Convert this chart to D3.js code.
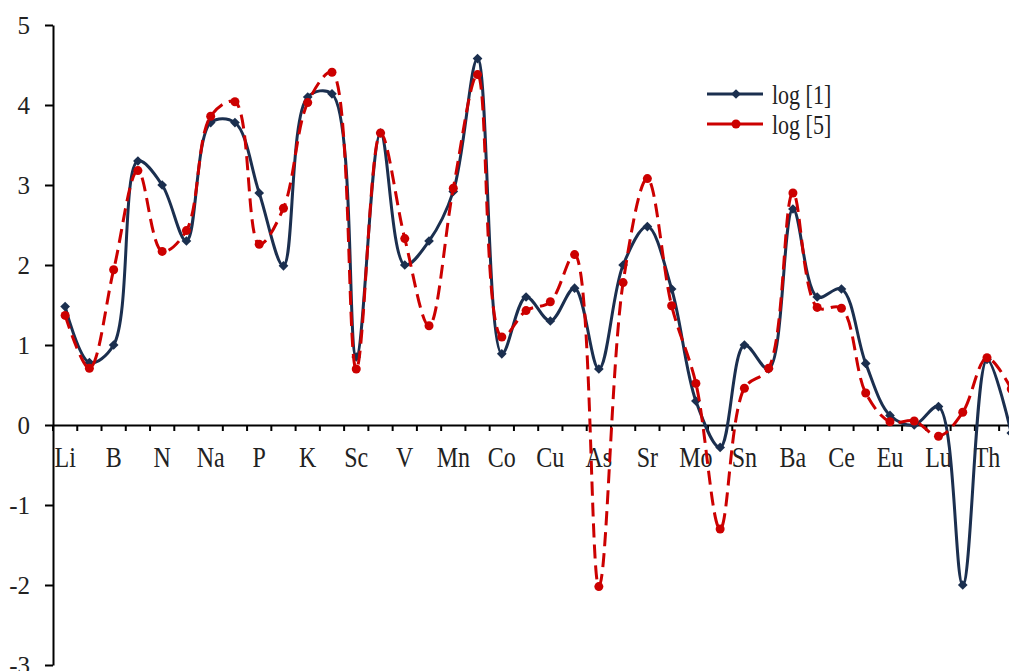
<!DOCTYPE html>
<html>
<head>
<meta charset="utf-8">
<script src="https://cdn.jsdelivr.net/npm/d3@7"></script>
<style>
  html, body { margin: 0; padding: 0; background: #fff; }
  svg { display: block; }
</style>
</head>
<body>
<svg id="chart" width="1009" height="671"></svg>
<script>
const categories = ["Li","Be","B","C","N","F","Na","Mg","P","S","K","Ca","Sc","Ti","V","Cr","Mn","Fe","Co","Ni","Cu","Zn","As","Rb","Sr","Zr","Mo","Cd","Sn","Sb","Ba","La","Ce","Nd","Eu","Yb","Lu","Pb","Th","U"];
const log1 = [1.48,0.78,1.0,3.3,3.0,2.3,3.78,3.78,2.9,1.99,4.1,4.14,0.85,3.65,2.0,2.3,2.92,4.58,0.89,1.6,1.3,1.71,0.7,2.0,2.48,1.7,0.3,-0.28,1.0,0.7,2.7,1.6,1.7,0.77,0.12,0.0,0.23,-2.0,0.82,-0.1];
const log5 = [1.37,0.71,1.94,3.18,2.17,2.43,3.86,4.04,2.26,2.71,4.03,4.41,0.7,3.65,2.33,1.24,2.96,4.38,1.1,1.43,1.54,2.13,-2.02,1.78,3.08,1.49,0.52,-1.3,0.46,0.71,2.9,1.47,1.46,0.4,0.04,0.05,-0.14,0.16,0.84,0.45];
const yTicks = [-3,-2,-1,0,1,2,3,4,5];
const seriesNames = ["log [1]", "log [5]"];

const svg = d3.select("#chart");
const mLeft = 53, mTop = 25, mBottom = 665;
const step = 24.26;
const x = d3.scaleBand().domain(categories).range([mLeft, mLeft + step * categories.length]).padding(0);
const bw = x.bandwidth();
const cx = c => x(c) + bw / 2;
const y = d3.scaleLinear().domain([-3, 5]).range([mBottom, mTop]);

const font = "'Liberation Serif', 'Times New Roman', serif";
const dark = "#1b2f4f", red = "#cc0000";

// Y axis
const yAxis = svg.append("g").attr("transform", `translate(${mLeft},0)`)
  .call(d3.axisLeft(y).tickValues(yTicks).tickSize(8).tickSizeOuter(0).tickPadding(15).tickFormat(d => String(d)));
yAxis.select(".domain").attr("stroke", "#000").attr("stroke-width", 2);
yAxis.selectAll(".tick line").attr("stroke", "#000").attr("stroke-width", 2);
yAxis.selectAll(".tick text").attr("font-family", font).attr("font-size", 25).attr("fill", "#222");

// X axis at y=0
const xAxis = svg.append("g").attr("transform", `translate(0,${y(0)})`)
  .call(d3.axisBottom(x).tickSize(6).tickSizeOuter(0).tickFormat((c, i) => i % 2 === 0 ? c : ""));
xAxis.select(".domain").attr("stroke", "#000").attr("stroke-width", 2);
xAxis.selectAll(".tick line").attr("x1", -bw / 2).attr("x2", -bw / 2).attr("stroke", "#000").attr("stroke-width", 2);
xAxis.selectAll(".tick text")
  .attr("font-family", font).attr("font-size", 24).attr("fill", "#222")
  .attr("dy", 0).attr("y", 42 / 1.25).attr("transform", "scale(1,1.25)");

// Lines
const line = d3.line().x((d, i) => cx(categories[i])).y(d => y(d)).curve(d3.curveCatmullRom.alpha(0.5));

svg.append("path").datum(log1).attr("d", line)
  .attr("fill", "none").attr("stroke", dark).attr("stroke-width", 3);
svg.append("g").selectAll("path").data(log1).join("path")
  .attr("d", d3.symbol(d3.symbolDiamond2, 60))
  .attr("transform", (d, i) => `translate(${cx(categories[i])},${y(d)})`)
  .attr("fill", dark);

svg.append("path").datum(log5).attr("d", line)
  .attr("fill", "none").attr("stroke", red).attr("stroke-width", 3).attr("stroke-dasharray", "14,7");
svg.append("g").selectAll("circle").data(log5).join("circle")
  .attr("cx", (d, i) => cx(categories[i])).attr("cy", d => y(d)).attr("r", 4.5)
  .attr("fill", red);

// Legend
const legend = svg.append("g");
const lg = [{name: seriesNames[0], color: dark, yy: 94, sym: "diamond"}, {name: seriesNames[1], color: red, yy: 124, sym: "circle"}];
lg.forEach(s => {
  legend.append("line").attr("x1", 707).attr("x2", 763).attr("y1", s.yy).attr("y2", s.yy)
    .attr("stroke", s.color).attr("stroke-width", 3);
  if (s.sym === "diamond") {
    legend.append("path").attr("d", d3.symbol(d3.symbolDiamond2, 60)).attr("transform", `translate(736,${s.yy})`).attr("fill", s.color);
  } else {
    legend.append("circle").attr("cx", 736).attr("cy", s.yy).attr("r", 4.5).attr("fill", s.color);
  }
  legend.append("text").attr("transform", `translate(772,${s.yy + 10}) scale(1,1.28)`)
    .attr("font-family", font).attr("font-size", 22).attr("fill", "#222").text(s.name);
});
</script>
</body>
</html>
